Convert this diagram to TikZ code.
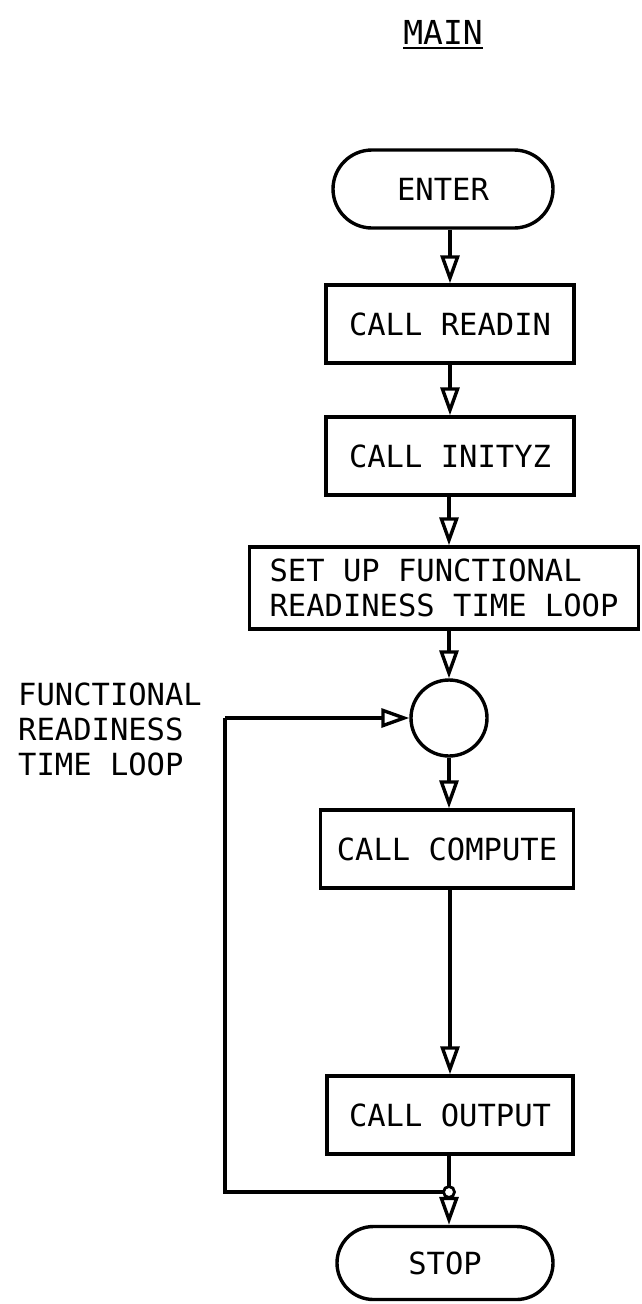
\documentclass[tikz,border=0pt]{standalone}
\usepackage{fontspec}
\setmainfont{DejaVu Sans Mono}
\usetikzlibrary{shapes.misc,arrows.meta}
\begin{document}
\begin{tikzpicture}[x=1pt,y=-1pt,
  every node/.style={font=\fontsize{30.5}{35}\selectfont},
  box/.style={draw,line width=3.4pt,minimum height=78pt,inner sep=0pt},
  term/.style={draw,rounded rectangle,line width=3.4pt,minimum height=78pt,inner sep=0pt},
  flow/.style={line width=3.4pt,-{Triangle[open,length=28pt,width=19pt,line width=3.4pt]}},
  wire/.style={line width=3.4pt}]
\useasboundingbox (0,0) rectangle (641,1304);
\node (title) at (443,32) {\fontsize{33}{36}\selectfont MAIN};
\draw[line width=2.8pt] (403,48) -- (483,48);
\node[term,minimum width=220pt] (enter) at (443,189) {ENTER};
\node[box,minimum width=248pt] (readin) at (450,324) {CALL READIN};
\node[box,minimum width=248pt] (inityz) at (450,456) {CALL INITYZ};
\node[box,minimum width=389pt,minimum height=82pt,align=left] (setup) at (444,588) {SET UP FUNCTIONAL\\READINESS TIME LOOP};
\node[draw,circle,line width=3.4pt,minimum size=76pt,inner sep=0pt] (circ) at (449,718) {};
\node[box,minimum width=253pt] (compute) at (447,849) {CALL COMPUTE};
\node[box,minimum width=246pt] (output) at (450,1115) {CALL OUTPUT};
\node[term,minimum width=216pt,minimum height=73pt] (stop) at (445,1263) {STOP};
\node[align=left,anchor=north west,inner sep=0pt] (lbl) at (18,683) {FUNCTIONAL\\READINESS\\TIME LOOP};
\coordinate (j) at (449,1192);
\coordinate (bl) at (225,1192);
\coordinate (tl) at (225,718);
\draw[flow] (readin.north |- enter.south) -- (readin.north);
\draw[flow] (readin.south) -- (inityz.north);
\draw[flow] (inityz.south -| circ.north) -- (setup.north -| circ.north);
\draw[flow] (setup.south -| circ.north) -- (circ.north);
\draw[flow] (circ.south) -- (compute.north -| circ.south);
\draw[flow] (compute.south -| output.north) -- (output.north);
\draw[flow] (output.south -| stop.north) ++(4,0) coordinate (os) -- (os |- stop.north);
\draw[wire] (j) -- (bl) -- (tl);
\draw[flow] (tl) -- (circ.west);
\draw[line width=2.8pt,fill=white] (j) circle (5.5pt);
\end{tikzpicture}
\end{document}
